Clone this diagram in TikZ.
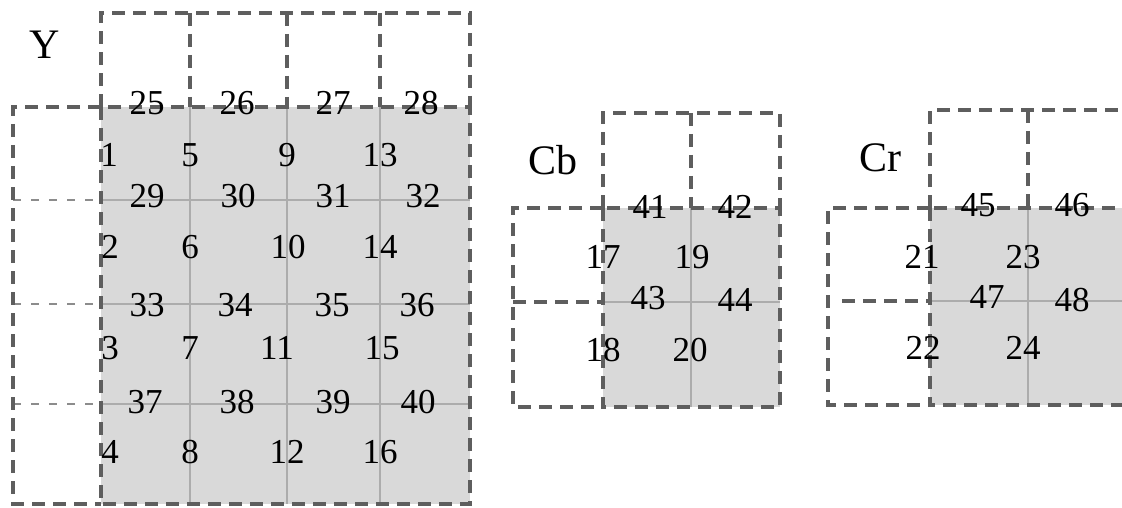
\documentclass[tikz,border=0pt]{standalone}
\usepackage{fontspec}
\setmainfont{Liberation Serif}
\begin{document}
\begin{tikzpicture}[x=1pt,y=-1pt,
    fillcell/.style={fill=gray!30},
    gridline/.style={draw=gray!65,line width=2pt},
    dashedge/.style={draw=black!63,line width=3.5pt,dash pattern=on 13pt off 8pt},
    thin dash/.style={draw=black!45,line width=1.8pt,dash pattern=on 8pt off 10pt},
    num/.style={inner sep=0pt,font=\fontsize{35}{40}\selectfont},
    blocklabel/.style={inner sep=0pt,font=\fontsize{42}{48}\selectfont} ]
    \useasboundingbox (0,0) rectangle (1122,508);
    \clip (0,0) rectangle (1122,508);
    % Y block
    \fill [fillcell] (101,107) rectangle (470,504);
    \draw [gridline] (190,107) -- (190,504);
    \draw [gridline] (287,107) -- (287,504);
    \draw [gridline] (380,107) -- (380,504);
    \draw [gridline] (101,200) -- (470,200);
    \draw [gridline] (101,304) -- (470,304);
    \draw [gridline] (101,404) -- (470,404);
    \draw [thin dash] (13,200) -- (101,200);
    \draw [thin dash] (13,304) -- (101,304);
    \draw [thin dash] (13,404) -- (101,404);
    \draw [dashedge] (101,107) -- (101,13) -- (470,13) -- (470,107);
    \draw [dashedge] (190,13) -- (190,107);
    \draw [dashedge] (287,13) -- (287,107);
    \draw [dashedge] (380,13) -- (380,107);
    \draw [dashedge] (101,107) -- (13,107) -- (13,504) -- (101,504);
    \draw [dashedge] (101,107) rectangle (470,504);
    % Cb block
    \fill [fillcell] (603,208) rectangle (780,407);
    \draw [gridline] (691,208) -- (691,407);
    \draw [gridline] (603,302) -- (780,302);
    \draw [dashedge] (603,208) -- (603,113) -- (780,113) -- (780,208);
    \draw [dashedge] (691,113) -- (691,208);
    \draw [dashedge] (603,208) -- (513,208) -- (513,407) -- (603,407);
    \draw [dashedge] (513,302) -- (603,302);
    \draw [dashedge] (603,208) rectangle (780,407);
    % Cr block
    \fill [fillcell] (930,208) rectangle (1130,405);
    \draw [gridline] (1028,208) -- (1028,405);
    \draw [gridline] (930,301) -- (1130,301);
    \draw [dashedge] (930,208) -- (930,110) -- (1130,110) -- (1130,208);
    \draw [dashedge] (1028,110) -- (1028,208);
    \draw [dashedge] (930,208) -- (828,208) -- (828,405) -- (930,405);
    \draw [dashedge] (842,301) -- (930,301);
    \draw [dashedge] (930,208) rectangle (1130,405);
    % labels
    \node at (45,45) [blocklabel] (labY) {Y};
    \node at (553,160) [blocklabel] (labCb) {Cb};
    \node at (880,158) [blocklabel] (labCr) {Cr};
    \node at (147,103) [num] (y25) {25};
    \node at (237,103) [num] (y26) {26};
    \node at (333,103) [num] (y27) {27};
    \node at (421,103) [num] (y28) {28};
    \node at (109,155) [num] (y1) {1};
    \node at (190,155) [num] (y5) {5};
    \node at (287,155) [num] (y9) {9};
    \node at (380,155) [num] (y13) {13};
    \node at (147,196) [num] (y29) {29};
    \node at (238,196) [num] (y30) {30};
    \node at (333,196) [num] (y31) {31};
    \node at (423,196) [num] (y32) {32};
    \node at (110,247) [num] (y2) {2};
    \node at (190,247) [num] (y6) {6};
    \node at (288,247) [num] (y10) {10};
    \node at (380,247) [num] (y14) {14};
    \node at (147,305) [num] (y33) {33};
    \node at (235,305) [num] (y34) {34};
    \node at (332,305) [num] (y35) {35};
    \node at (417,305) [num] (y36) {36};
    \node at (110,348) [num] (y3) {3};
    \node at (190,348) [num] (y7) {7};
    \node at (277,348) [num] (y11) {11};
    \node at (382,348) [num] (y15) {15};
    \node at (145,402) [num] (y37) {37};
    \node at (237,402) [num] (y38) {38};
    \node at (333,402) [num] (y39) {39};
    \node at (418,402) [num] (y40) {40};
    \node at (110,452) [num] (y4) {4};
    \node at (190,452) [num] (y8) {8};
    \node at (287,452) [num] (y12) {12};
    \node at (380,452) [num] (y16) {16};
    \node at (650,207) [num] (cb41) {41};
    \node at (735,207) [num] (cb42) {42};
    \node at (603,257) [num] (cb17) {17};
    \node at (692,257) [num] (cb19) {19};
    \node at (648,298) [num] (cb43) {43};
    \node at (735,300) [num] (cb44) {44};
    \node at (603,350) [num] (cb18) {18};
    \node at (690,350) [num] (cb20) {20};
    \node at (978,205) [num] (cr45) {45};
    \node at (1072,205) [num] (cr46) {46};
    \node at (922,257) [num] (cr21) {21};
    \node at (1023,257) [num] (cr23) {23};
    \node at (987,297) [num] (cr47) {47};
    \node at (1072,300) [num] (cr48) {48};
    \node at (923,348) [num] (cr22) {22};
    \node at (1023,348) [num] (cr24) {24};
\end{tikzpicture}
\end{document}
